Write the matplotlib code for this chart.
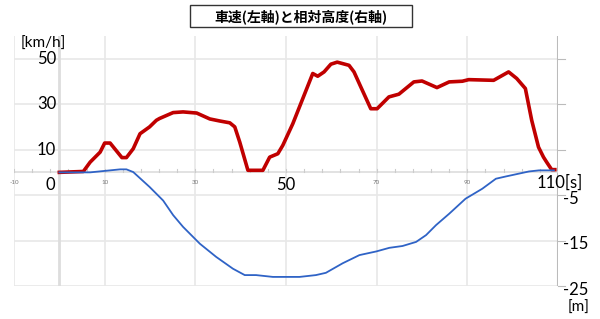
import matplotlib.pyplot as plt
from matplotlib.patches import Rectangle
import numpy as np

plt.rcParams['font.family'] = ['Lato', 'Noto Sans CJK JP', 'DejaVu Sans']

# speed [km/h] (left axis)
t_speed = [0, 5.3, 6.8, 9, 10, 11.2, 13.8, 14.8, 16.3, 17.8, 19.9, 21.4, 22.1, 25.1, 27.3, 30.3,
           33.2, 35.4, 37.6, 38.7, 39.8, 41.6, 44.9, 46.4, 48.2, 49.3, 51.5, 55.9, 57, 58.4,
           59.9, 61.3, 63.9, 65, 66.5, 68.7, 70.1, 72.7, 74.9, 78.2, 80, 83.3, 86, 88.9, 90.3,
           95.8, 99.1, 100.9, 102.8, 104.2, 105.7, 106.8, 107.5, 108.6, 109.3]
speed = [0, 0.4, 4.5, 8.9, 12.9, 12.9, 6.5, 6.5, 10.4, 17, 20, 22.9, 23.7, 26.3, 26.6, 26.1,
         23.5, 22.6, 21.8, 20, 13.3, 0.9, 0.9, 6.7, 8.2, 11.9, 21.4, 43.5, 42.3, 44.2,
         47.6, 48.5, 47.1, 44.2, 37.6, 28, 28, 33.2, 34.4, 39.8, 40.2, 37.3, 39.8, 40.1, 40.8,
         40.5, 44.2, 41.3, 36.9, 22.9, 11.1, 6.7, 4.5, 1.2, 1.2]

# relative altitude [m] (right axis)
t_alt = [0, 6.8, 11.2, 13.4, 14.8, 16.3, 19.9, 22.9, 25.1, 27.3, 31, 34.6, 38.3, 40.9, 43.4,
         47.1, 53, 56.6, 58.8, 62.5, 66.2, 69.9, 72.8, 75.7, 78.7, 80.9, 83.1, 86, 89.6,
         93.3, 96.3, 98.5, 103.6, 105.8, 109.1]
alt = [0, 0, 0.44, 0.66, 0.66, 0.07, -3.2, -6.2, -9.4, -12, -15.7, -18.6, -21.2, -22.6, -22.6,
       -23, -23, -22.6, -22.1, -20, -18.2, -17.4, -16.6, -16.2, -15.3, -13.8, -11.6, -9.1, -5.8,
       -3.6, -1.4, -0.9, 0.2, 0.44, 0.44]

small_ticks = [-10, 10, 30, 70, 90]
big_ticks = ['0', '50', '110[s]']
left_ticks = [50, 30, 10]
right_ticks = [-5, -15, -25]

W, H = 600, 319
fig = plt.figure(figsize=(6, 3.19), dpi=100)
ax = fig.add_axes([14 / W, (H - 286) / H, (558 - 14) / W, (286 - 36) / H])
ax.set_xlim(-10, 110)
ax.set_ylim(-50, 60)
ax.axis('off')
ax2 = ax.twinx()
ax2.set_ylim(-25, 30)
ax2.axis('off')

grid = '#e8e8e8'
for y in [50, 30, 10, -10, -30, -50]:
    ax.plot([-10, 110], [y, y], color=grid, lw=1.2, zorder=1)
    ax.plot([110, 111.5], [y, y], color='#bbbbbb', lw=0.8, zorder=1, clip_on=False)
for x in [-10, 10, 30, 50, 70, 90]:
    ax.plot([x, x], [-50, 60], color=grid, lw=1.2, zorder=1)
ax.plot([0, 0], [-50, 60], color='#dddddd', lw=2, zorder=1)
ax.plot([110, 110], [-50, 60], color='#bbbbbb', lw=1.5, zorder=1)
ax.plot([-10, 110], [0, 0], color='#dddddd', lw=1.2, zorder=1)
for x in np.arange(-10, 111, 4):
    ax.plot([x, x], [0, 1.6], color='#cccccc', lw=0.8, zorder=1)

ax.plot(t_speed, speed, color='#c00000', lw=2.6, zorder=3, solid_joinstyle='round')
ax2.plot(t_alt, alt, color='#2f63c6', lw=1.3, zorder=4)

for x in small_ticks:
    ax.text(x, -4.5, str(x), fontsize=4.5, color='#777777', ha='center', va='center')
ax.text(-1, -5.5, big_ticks[0], fontsize=12, ha='right', va='center')
ax.text(50, -5.5, big_ticks[1], fontsize=12, ha='center', va='center')
ax.text(110.3, -4.6, big_ticks[2], fontsize=12, ha='center', va='center')
for y in left_ticks:
    ax.text(-0.7, y, str(y), fontsize=12, ha='right', va='center')
ax.text(-8.5, 56.5, '[km/h]', fontsize=11, ha='left', va='center')
for y in right_ticks:
    ax2.text(111.2, y - 0.8, str(y), fontsize=12, ha='left', va='center')
ax2.text(114.5, -29.8, '[m]', fontsize=11, ha='center', va='center')

fig.patches.append(Rectangle((190 / W, 1 - 27 / H), 222 / W, 22 / H, transform=fig.transFigure,
                             fc='white', ec='#333333', lw=1))
fig.text(301 / W, 1 - 16.5 / H, '車速(左軸)と相対高度(右軸)', fontsize=10, fontweight='bold',
         ha='center', va='center', family=['Noto Sans CJK JP'])

fig.savefig('out.png', dpi=100)
